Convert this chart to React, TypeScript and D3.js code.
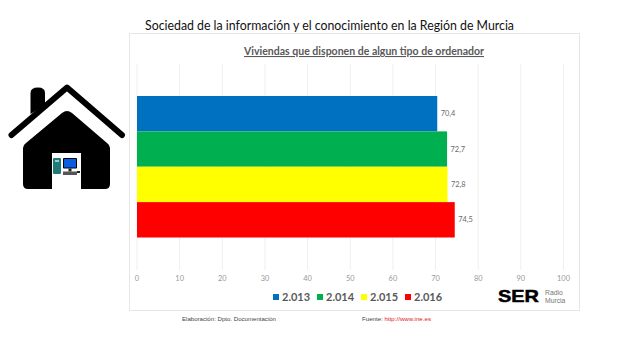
import React from "react";
import * as d3 from "d3";

const years = ["2.013", "2.014", "2.015", "2.016"];
const values = [70.4, 72.7, 72.8, 74.5];
const labels = ["70,4", "72,7", "72,8", "74,5"];
const colors = ["#0070c0", "#00b050", "#ffff00", "#ff0000"];
const ticks = [0, 10, 20, 30, 40, 50, 60, 70, 80, 90, 100];
const legendX = [273, 317, 361, 405];

const font = "Lato, sans-serif";

export default function App() {
  const x = d3.scaleLinear().domain([0, 100]).range([137, 563.5]);
  const y = d3.scaleBand<string>().domain(years).range([96, 237.5]).padding(0);
  return (
    <svg width={630} height={354} style={{ position: "fixed", left: 0, top: 0, background: "#fff" }}>
      <text x={145} y={30} textAnchor="start" fontFamily={font} fontSize={14} fill="#111" textLength={369} lengthAdjust="spacingAndGlyphs">
        Sociedad de la información y el conocimiento en la Región de Murcia
      </text>
      <rect x={129.5} y={33.5} width={450} height={277} fill="#fff" stroke="#e6e6e6" strokeWidth={1} />
      <text x={244} y={55} textAnchor="start" fontFamily={font} fontWeight={700} fontSize={10.7} fill="#595959" textDecoration="underline" textLength={240} lengthAdjust="spacingAndGlyphs">
        Viviendas que disponen de algun tipo de ordenador
      </text>
      {ticks.map((t) => (
        <g key={t}>
          <line x1={x(t)} x2={x(t)} y1={64} y2={270} stroke="#efefef" strokeWidth={1} />
          <text x={x(t)} y={281} textAnchor="middle" fontFamily={font} fontSize={7.4} fill="#999">{t}</text>
        </g>
      ))}
      {years.map((yr, i) => (
        <g key={yr}>
          <rect x={x(0)} y={y(yr)} width={x(values[i]) - x(0)} height={y.bandwidth()} fill={colors[i]} />
          <text x={x(values[i]) + 3.5} y={y(yr)! + y.bandwidth() / 2 + 2.5} fontFamily={font} fontSize={7.4} fill="#6a6a6a">{labels[i]}</text>
          <rect x={legendX[i]} y={294} width={6} height={6} fill={colors[i]} />
          <text x={legendX[i] + 9} y={301} fontFamily={font} fontWeight={700} fontSize={11} fill="#595959">{yr}</text>
        </g>
      ))}
      {/* SER logo */}
      <text x={498} y={302} fontFamily="'Liberation Sans', sans-serif" fontWeight={700} fontSize={17} fill="#000" textLength={41} lengthAdjust="spacingAndGlyphs" stroke="#000" strokeWidth={0.5}>SER</text>
      <text x={545} y={294.5} fontFamily="'Liberation Sans', sans-serif" fontSize={6.8} fill="#777">Radio</text>
      <text x={545} y={302.5} fontFamily="'Liberation Sans', sans-serif" fontSize={6.8} fill="#777">Murcia</text>
      {/* footer */}
      <text x={182} y={321} fontFamily="'Liberation Sans', sans-serif" fontSize={6} fill="#444" textLength={94} lengthAdjust="spacingAndGlyphs">Elaboración: Dpto. Documentación</text>
      <text x={362} y={321} fontFamily="'Liberation Sans', sans-serif" fontSize={6} fill="#444" textLength={69} lengthAdjust="spacingAndGlyphs">Fuente: <tspan fill="#e02020">http://www.ine.es</tspan></text>
      {/* house */}
      <g>
        <path d="M30.5 114 V93 Q30.5 87.5 38 87.5 Q45 87.5 45 93 V105 Z" fill="#000" />
        <path d="M11.5 135 L67 87.5 L122 135" fill="none" stroke="#000" strokeWidth={6} strokeLinecap="round" strokeLinejoin="round" />
        <path d="M23 148 Q23 145 26 143 L62 113 Q67 109 72 113 L107 143 Q110 145 110 148 V184 Q110 189 105 189 H81 V153 H52 V189 H28 Q23 189 23 184 Z" fill="#000" />
        {/* computer */}
        <rect x={53} y={158} width={8} height={16} rx={1} fill="#1f7a78" />
        <rect x={55} y={160} width={4} height={2} fill="#9ad0cc" />
        <rect x={63} y={158} width={14} height={10.5} rx={1} fill="#000" />
        <rect x={64} y={159} width={12} height={8.5} fill="#0a5fe0" />
        <rect x={68.5} y={168.5} width={3} height={3} fill="#222" />
        <rect x={63} y={171.5} width={14} height={3.5} fill="#555" />
        <rect x={77} y={171} width={3} height={2} fill="#222" />
      </g>
    </svg>
  );
}
